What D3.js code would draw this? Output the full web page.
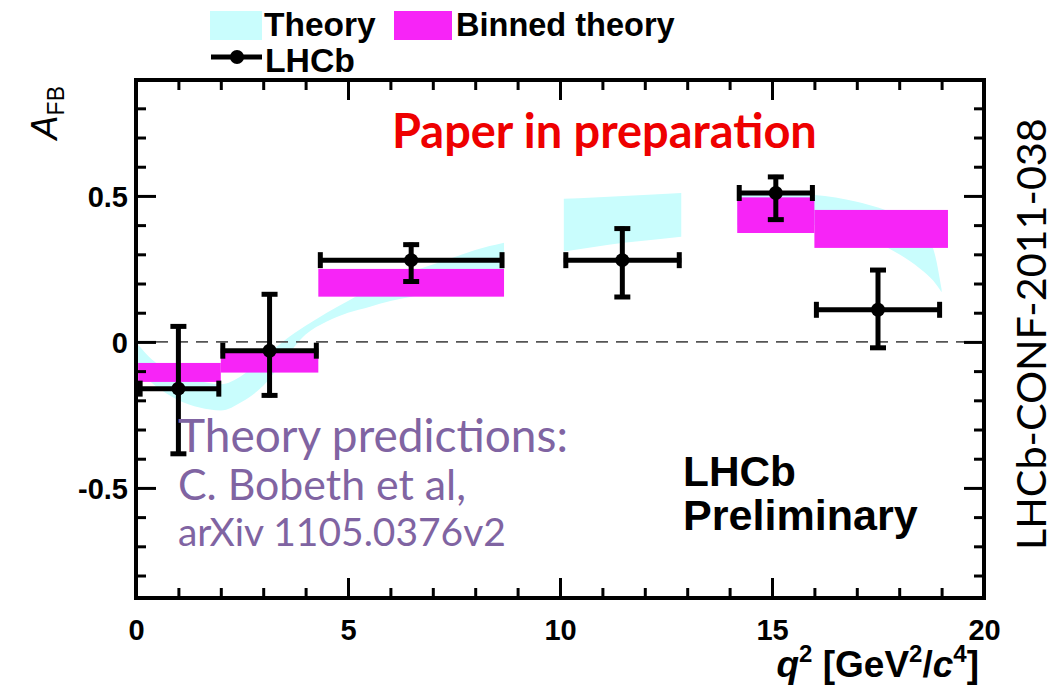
<!DOCTYPE html>
<html>
<head>
<meta charset="utf-8">
<script src="https://cdn.jsdelivr.net/npm/d3@7"></script>
<style>
  body { margin: 0; background: #fff; }
  svg { display: block; }
</style>
</head>
<body>
<svg id="chart" width="1063" height="690"></svg>
<script>
// ---- Theory band (continuous prediction), three q2 windows ----
const bandQ2A = [0.05, 0.3, 0.6, 1.0, 1.5, 2.0, 2.5, 3.0, 3.5, 4.0, 4.5, 5.0, 5.5, 6.0, 6.5, 7.0, 7.5, 8.0, 8.68];
const bandLoA = [-0.09, -0.13, -0.165, -0.20, -0.225, -0.235, -0.205, -0.15, -0.06, 0.025, 0.07, 0.10, 0.12, 0.14, 0.155, 0.17, 0.18, 0.19, 0.20];
const bandHiA = [-0.01, -0.05, -0.085, -0.115, -0.135, -0.145, -0.115, -0.055, 0.005, 0.055, 0.10, 0.14, 0.18, 0.21, 0.24, 0.265, 0.29, 0.315, 0.34];

const bandQ2B = [10.09, 10.8, 11.5, 12.2, 12.86];
const bandLoB = [0.31, 0.325, 0.34, 0.35, 0.36];
const bandHiB = [0.49, 0.495, 0.50, 0.505, 0.51];

const bandQ2C = [14.18, 15.0, 16.0, 16.5, 17.0, 17.5, 18.0, 18.5, 18.8, 19.0];
const bandLoC = [0.40, 0.41, 0.40, 0.385, 0.365, 0.34, 0.30, 0.25, 0.21, 0.17];
const bandHiC = [0.50, 0.51, 0.503, 0.495, 0.48, 0.46, 0.43, 0.38, 0.32, 0.18];

// ---- Binned theory ----
const binLo  = [0.05, 2.0, 4.3, 14.18, 16.0];
const binHi  = [2.0, 4.3, 8.68, 16.0, 19.15];
const binMin = [-0.137, -0.105, 0.155, 0.373, 0.322];
const binMax = [-0.072, -0.030, 0.250, 0.495, 0.452];

// ---- LHCb measurement ----
const lhcbQ2    = [1.0, 3.15, 6.49, 11.47, 15.09, 17.5];
const lhcbBinLo = [0.05, 2.0, 4.3, 10.09, 14.18, 16.0];
const lhcbBinHi = [2.0, 4.3, 8.68, 12.86, 16.0, 19.0];
const lhcbAfb   = [-0.16, -0.03, 0.28, 0.28, 0.51, 0.11];
const lhcbErrUp = [0.22, 0.20, 0.06, 0.115, 0.062, 0.143];
const lhcbErrDn = [0.23, 0.16, 0.08, 0.133, 0.098, 0.137];

// ---- Axis ticks ----
const xTickValues = [0, 5, 10, 15, 20];
const yTickValues = [-0.5, 0, 0.5];
const xTickLabels = ["0", "5", "10", "15", "20"];
const yTickLabels = ["-0.5", "0", "0.5"];

const svg = d3.select("#chart");
const plot = { left: 136, right: 984, top: 80, bottom: 598 };

const x = d3.scaleLinear().domain([0, 20]).range([plot.left, plot.right]);
const y = d3.scaleLinear().domain([-0.877, 0.897]).range([plot.bottom, plot.top]);

const CYAN = "#c9fdfd";
const MAGENTA = "#f724f7";
const HELV = "'Liberation Sans', Arial, Helvetica, sans-serif";
const HUMAN = "Lato, 'Open Sans', sans-serif";

// scale a text's font size so its rendered width equals w
function fitWidth(sel, w) {
  const bw = sel.node().getBBox().width;
  const fs = parseFloat(sel.attr("font-size"));
  sel.attr("font-size", fs * w / bw);
  return sel;
}

// ---- theory band ----
const area = d3.area()
  .x(d => x(d.q))
  .y0(d => y(d.lo))
  .y1(d => y(d.hi))
  .curve(d3.curveMonotoneX);

const segments = [
  [bandQ2A, bandLoA, bandHiA],
  [bandQ2B, bandLoB, bandHiB],
  [bandQ2C, bandLoC, bandHiC]
].map(([q, lo, hi]) => q.map((v, i) => ({ q: v, lo: lo[i], hi: hi[i] })));

svg.append("g").selectAll("path").data(segments).join("path")
  .attr("d", area)
  .attr("fill", CYAN);

// ---- binned theory ----
svg.append("g").selectAll("rect").data(binLo.map((lo, i) => ({ lo, hi: binHi[i], mn: binMin[i], mx: binMax[i] })))
  .join("rect")
  .attr("x", d => x(d.lo))
  .attr("width", d => x(d.hi) - x(d.lo))
  .attr("y", d => y(d.mx))
  .attr("height", d => y(d.mn) - y(d.mx))
  .attr("fill", MAGENTA);

// ---- zero line ----
svg.append("line")
  .attr("x1", x(0)).attr("x2", x(20))
  .attr("y1", y(0)).attr("y2", y(0))
  .attr("stroke", "#555").attr("stroke-width", 1.6)
  .attr("stroke-dasharray", "12,8");

// ---- LHCb points with error bars ----
const pts = lhcbQ2.map((q, i) => ({
  q, a: lhcbAfb[i], lo: lhcbBinLo[i], hi: lhcbBinHi[i],
  up: lhcbAfb[i] + lhcbErrUp[i], dn: lhcbAfb[i] - lhcbErrDn[i]
}));
const gp = svg.append("g").attr("stroke", "#000").attr("stroke-width", 5);
const capH = 8, capV = 8;
pts.forEach(p => {
  const g = gp.append("g");
  g.append("line").attr("x1", x(p.lo)).attr("x2", x(p.hi)).attr("y1", y(p.a)).attr("y2", y(p.a));
  g.append("line").attr("x1", x(p.q)).attr("x2", x(p.q)).attr("y1", y(p.up)).attr("y2", y(p.dn));
  // end caps
  g.append("line").attr("x1", x(p.lo) + 2).attr("x2", x(p.lo) + 2).attr("y1", y(p.a) - capH).attr("y2", y(p.a) + capH);
  g.append("line").attr("x1", x(p.hi) - 2).attr("x2", x(p.hi) - 2).attr("y1", y(p.a) - capH).attr("y2", y(p.a) + capH);
  g.append("line").attr("x1", x(p.q) - capV).attr("x2", x(p.q) + capV).attr("y1", y(p.up) + 2).attr("y2", y(p.up) + 2);
  g.append("line").attr("x1", x(p.q) - capV).attr("x2", x(p.q) + capV).attr("y1", y(p.dn) - 2).attr("y2", y(p.dn) - 2);
  g.append("circle").attr("cx", x(p.q)).attr("cy", y(p.a)).attr("r", 7).attr("fill", "#000").attr("stroke", "none");
});

// ---- axes: ticks on all four sides, pointing inward ----
const minorY = d3.range(-8, 9).map(k => k / 10).filter(v => Math.abs(v * 2 - Math.round(v * 2)) > 1e-6);
const minorX = d3.range(0, 21).filter(v => v % 5 !== 0);
const MAJ = 20, MIN = 10;

function styleAxis(g) {
  g.select(".domain").remove();
  g.selectAll(".tick line").attr("stroke", "#000").attr("stroke-width", 3);
  g.selectAll("text").attr("fill", "#000");
}

// left
svg.append("g").attr("transform", `translate(${plot.left},0)`)
  .call(d3.axisLeft(y).tickValues(yTickValues).tickSize(-MAJ).tickPadding(8)
    .tickFormat((d, i) => yTickLabels[i]))
  .call(styleAxis)
  .call(g => g.selectAll("text").attr("font-family", HELV).attr("font-weight", "bold").attr("font-size", 29).attr("dy", "0.36em"));
svg.append("g").attr("transform", `translate(${plot.left},0)`)
  .call(d3.axisLeft(y).tickValues(minorY).tickSize(-MIN).tickFormat(""))
  .call(styleAxis);
// right
svg.append("g").attr("transform", `translate(${plot.right},0)`)
  .call(d3.axisRight(y).tickValues(yTickValues).tickSize(-MAJ).tickFormat(""))
  .call(styleAxis);
svg.append("g").attr("transform", `translate(${plot.right},0)`)
  .call(d3.axisRight(y).tickValues(minorY).tickSize(-MIN).tickFormat(""))
  .call(styleAxis);
// bottom
svg.append("g").attr("transform", `translate(0,${plot.bottom})`)
  .call(d3.axisBottom(x).tickValues(xTickValues).tickSize(-MAJ).tickPadding(21)
    .tickFormat((d, i) => xTickLabels[i]))
  .call(styleAxis)
  .call(g => g.selectAll("text").attr("font-family", HELV).attr("font-weight", "bold").attr("font-size", 29).attr("dy", "0.71em"));
svg.append("g").attr("transform", `translate(0,${plot.bottom})`)
  .call(d3.axisBottom(x).tickValues(minorX).tickSize(-MIN).tickFormat(""))
  .call(styleAxis);
// top
svg.append("g").attr("transform", `translate(0,${plot.top})`)
  .call(d3.axisTop(x).tickValues(xTickValues).tickSize(-MAJ).tickFormat(""))
  .call(styleAxis);
svg.append("g").attr("transform", `translate(0,${plot.top})`)
  .call(d3.axisTop(x).tickValues(minorX).tickSize(-MIN).tickFormat(""))
  .call(styleAxis);

// frame
svg.append("rect")
  .attr("x", plot.left).attr("y", plot.top)
  .attr("width", plot.right - plot.left).attr("height", plot.bottom - plot.top)
  .attr("fill", "none").attr("stroke", "#000").attr("stroke-width", 4);

// ---- axis titles ----
const xt = svg.append("text")
  .attr("x", 979).attr("y", 677).attr("text-anchor", "end")
  .attr("font-family", HELV).attr("font-weight", "bold").attr("font-size", 37).attr("fill", "#000");
xt.append("tspan").attr("font-style", "italic").text("q");
xt.append("tspan").attr("font-size", 24).attr("dy", -15).text("2");
xt.append("tspan").attr("dy", 15).text(" [GeV");
xt.append("tspan").attr("font-size", 24).attr("dy", -15).text("2");
xt.append("tspan").attr("dy", 15).text("/");
xt.append("tspan").attr("font-style", "italic").text("c");
xt.append("tspan").attr("font-size", 24).attr("dy", -15).text("4");
xt.append("tspan").attr("dy", 15).text("]");

const yt = svg.append("text")
  .attr("transform", "translate(57,86) rotate(-90)")
  .attr("text-anchor", "end")
  .attr("font-family", HELV).attr("font-size", 36).attr("fill", "#000");
yt.append("tspan").attr("font-style", "italic").text("A");
yt.append("tspan").attr("font-size", 23).attr("dy", 7).text("FB");

// ---- legend ----
const lg = svg.append("g");
lg.append("rect").attr("x", 210).attr("y", 11).attr("width", 52).attr("height", 29).attr("fill", CYAN);
lg.append("rect").attr("x", 394).attr("y", 11).attr("width", 58).attr("height", 29).attr("fill", MAGENTA);
lg.append("line").attr("x1", 211).attr("x2", 262).attr("y1", 57).attr("y2", 57).attr("stroke", "#000").attr("stroke-width", 5);
lg.append("circle").attr("cx", 237).attr("cy", 57).attr("r", 7).attr("fill", "#000");
const legText = (tx, ty, s, w) => fitWidth(lg.append("text").attr("x", tx).attr("y", ty)
  .attr("font-family", HELV).attr("font-weight", "bold").attr("font-size", 32).attr("fill", "#000").text(s), w);
legText(264, 36, "Theory", 112);
legText(456, 36, "Binned theory", 219);
legText(265, 72, "LHCb", 90);

// ---- annotations ----
fitWidth(svg.append("text").attr("x", 392).attr("y", 148)
  .attr("font-family", HUMAN).attr("font-weight", "bold").attr("font-size", 36).attr("fill", "#ee0000")
  .text("Paper in preparation"), 425);

const PURPLE = "#8064a2";
fitWidth(svg.append("text").attr("x", 178).attr("y", 452)
  .attr("font-family", HUMAN).attr("font-size", 40).attr("fill", PURPLE)
  .text("Theory predictions:"), 390);
fitWidth(svg.append("text").attr("x", 178).attr("y", 500)
  .attr("font-family", HUMAN).attr("font-size", 32).attr("fill", PURPLE)
  .text("C. Bobeth et al,"), 288);
fitWidth(svg.append("text").attr("x", 178).attr("y", 546)
  .attr("font-family", HUMAN).attr("font-size", 32).attr("fill", PURPLE)
  .text("arXiv 1105.0376v2"), 328);

fitWidth(svg.append("text").attr("x", 683).attr("y", 486)
  .attr("font-family", HELV).attr("font-weight", "bold").attr("font-size", 32).attr("fill", "#000")
  .text("LHCb"), 113);
fitWidth(svg.append("text").attr("x", 683).attr("y", 530)
  .attr("font-family", HELV).attr("font-weight", "bold").attr("font-size", 32).attr("fill", "#000")
  .text("Preliminary"), 235);

fitWidth(svg.append("text")
  .attr("transform", "translate(1046,550) rotate(-90)")
  .attr("font-family", HUMAN).attr("font-size", 36).attr("fill", "#000")
  .text("LHCb-CONF-2011-038"), 432);
</script>
</body>
</html>
